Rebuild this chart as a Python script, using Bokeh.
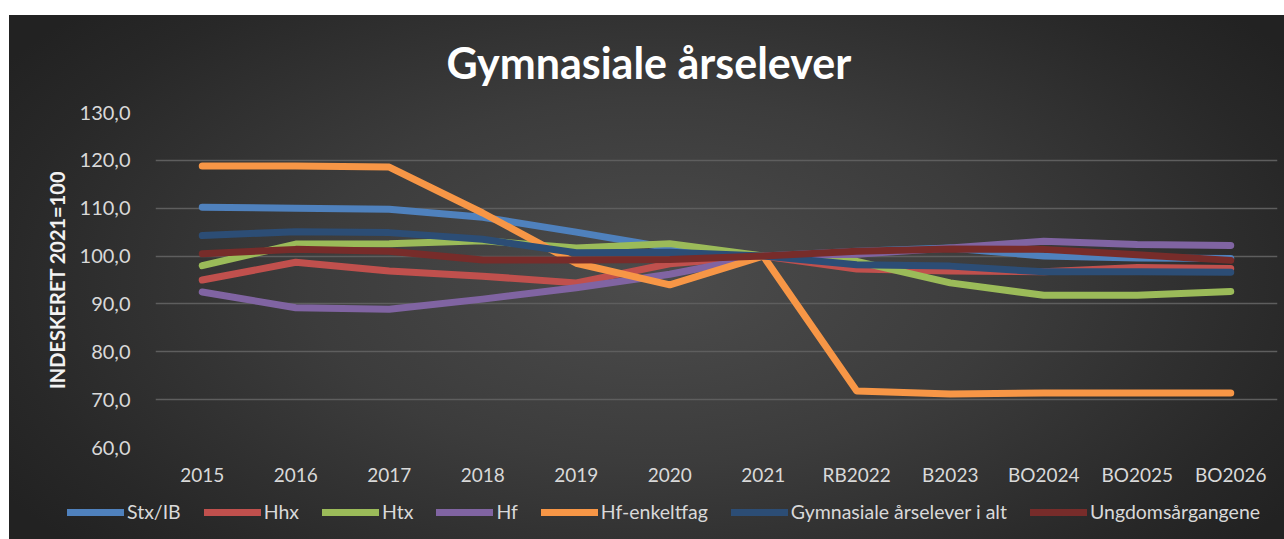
from bokeh.plotting import figure
from bokeh.layouts import column
from bokeh.models import (FactorRange, Range1d, FixedTicker, CustomJSTickFormatter,
                          Legend, LegendItem, Title)
from bokeh.embed import file_html
from bokeh.resources import INLINE

categories = ["2015", "2016", "2017", "2018", "2019", "2020", "2021",
              "RB2022", "B2023", "BO2024", "BO2025", "BO2026"]

stx_ib = [110.2, 110.0, 109.8, 108.1, 105.0, 101.7, 100.0, 101.0, 101.7, 100.0, 99.6, 99.5]
hhx = [95.0, 98.7, 96.9, 95.8, 94.4, 98.4, 100.0, 97.3, 96.9, 96.7, 97.6, 97.4]
htx = [98.0, 102.5, 102.6, 103.2, 101.7, 102.6, 100.0, 98.9, 94.4, 91.8, 91.8, 92.6]
hf = [92.5, 89.2, 88.9, 91.0, 93.4, 96.2, 100.0, 100.4, 101.7, 103.1, 102.4, 102.2]
hf_enkeltfag = [118.8, 118.8, 118.6, 109.0, 98.5, 94.0, 100.0, 71.8, 71.2, 71.4, 71.4, 71.4]
gym_i_alt = [104.3, 105.1, 104.9, 103.5, 100.7, 100.8, 100.0, 98.2, 97.9, 96.7, 96.7, 96.6]
ungdom = [100.5, 101.4, 101.0, 99.2, 99.2, 99.3, 100.0, 101.0, 101.5, 101.4, 100.3, 99.1]

series_names = ["Stx/IB", "Hhx", "Htx", "Hf", "Hf-enkeltfag",
                "Gymnasiale årselever i alt", "Ungdomsårgangene"]
series_values = [stx_ib, hhx, htx, hf, hf_enkeltfag, gym_i_alt, ungdom]
colors = ["#4F81BD", "#C0504D", "#9BBB59", "#8064A2", "#F79646", "#2C4D75", "#772C2A"]

y_ticks = [60, 70, 80, 90, 100, 110, 120, 130]

FONT = "Lato"
W, H_TOP, H_LEG = 1284, 497, 42
RADIAL = "radial-gradient(ellipse 60% 75% at 51% 52%, #4c4c4c 0%, #3c3c3c 45%, #282828 85%, #222222 100%)"
WHITE_LEFT = "linear-gradient(to right, #ffffff 9px, rgba(255,255,255,0) 9px)"
WHITE_TOP = "linear-gradient(to bottom, #ffffff 15px, rgba(255,255,255,0) 15px)"

p = figure(width=W, height=H_TOP, x_range=FactorRange(*categories),
           y_range=Range1d(60, 130), output_backend="svg", toolbar_location=None,
           min_border_left=155, min_border_right=7, min_border_top=112,
           min_border_bottom=50)
p.frame_align = False
p.styles = {"background-image": f"{WHITE_TOP}, {WHITE_LEFT}, {RADIAL}",
            "background-size": f"100% 100%, 100% 100%, {W}px {H_TOP + H_LEG}px",
            "background-position": "0 0, 0 0, 0 0",
            "background-repeat": "no-repeat"}
p.border_fill_color = None
p.background_fill_color = None
p.outline_line_color = None

p.add_layout(Title(text="Gymnasiale årselever", align="left", text_font=FONT,
                   text_font_size="43px", text_font_style="bold", text_color="#ffffff",
                   standoff=49, offset=291), "above")

for name, vals, col in zip(series_names, series_values, colors):
    p.line(categories, vals, line_color=col, line_width=7,
           line_cap="round", line_join="round")

p.xgrid.grid_line_color = None
p.ygrid.grid_line_color = "#5e5e5e"
p.ygrid.grid_line_width = 1.5
p.ygrid.ticker = FixedTicker(ticks=y_ticks)

p.yaxis.ticker = FixedTicker(ticks=y_ticks)
p.yaxis.formatter = CustomJSTickFormatter(code="return tick.toFixed(1).replace('.', ',');")
for ax in (p.xaxis[0], p.yaxis[0]):
    ax.axis_line_color = None
    ax.major_tick_line_color = None
    ax.minor_tick_line_color = None
    ax.major_label_text_color = "#d9d9d9"
    ax.major_label_text_font = FONT
    ax.major_label_text_font_size = "19px"
p.yaxis.major_label_text_font_size = "20px"
p.yaxis.major_label_standoff = 19
p.xaxis.major_label_standoff = 9
p.yaxis.axis_label = "INDESKERET 2021=100"
p.yaxis.axis_label_text_font = FONT
p.yaxis.axis_label_text_font_size = "20px"
p.yaxis.axis_label_text_font_style = "bold"
p.yaxis.axis_label_text_color = "#f2f2f2"
p.yaxis.axis_label_standoff = 8

# legend strip: a second figure sharing the categories; its y-range keeps the
# series out of view so that only the legend is seen
p2 = figure(width=W, height=H_LEG, x_range=FactorRange(*categories), y_range=Range1d(0, 1),
            output_backend="svg", toolbar_location=None, min_border=0)
p2.frame_align = False
p2.styles = {"background-image": f"{WHITE_LEFT}, {RADIAL}",
             "background-size": f"100% 100%, {W}px {H_TOP + H_LEG}px",
             "background-position": f"0 0, 0 -{H_TOP}px",
             "background-repeat": "no-repeat"}
p2.border_fill_color = None
p2.background_fill_color = None
p2.outline_line_color = None
p2.axis.visible = False
p2.grid.grid_line_color = None

items = []
for name, vals, col in zip(series_names, series_values, colors):
    r = p2.line(categories, vals, line_color=col, line_width=7, line_cap="round")
    items.append(LegendItem(label=name, renderers=[r]))

legend = Legend(items=items, orientation="horizontal", location=(67, 16),
                label_text_font=FONT, label_text_font_size="19.5px",
                label_text_color="#d9d9d9", glyph_width=57, glyph_height=20,
                label_standoff=3, spacing=23, padding=0, margin=0,
                background_fill_alpha=0, border_line_color=None)
p2.add_layout(legend, "center")

layout = column(p, p2, spacing=0)
open("out.html", "w").write(file_html(layout, INLINE))
